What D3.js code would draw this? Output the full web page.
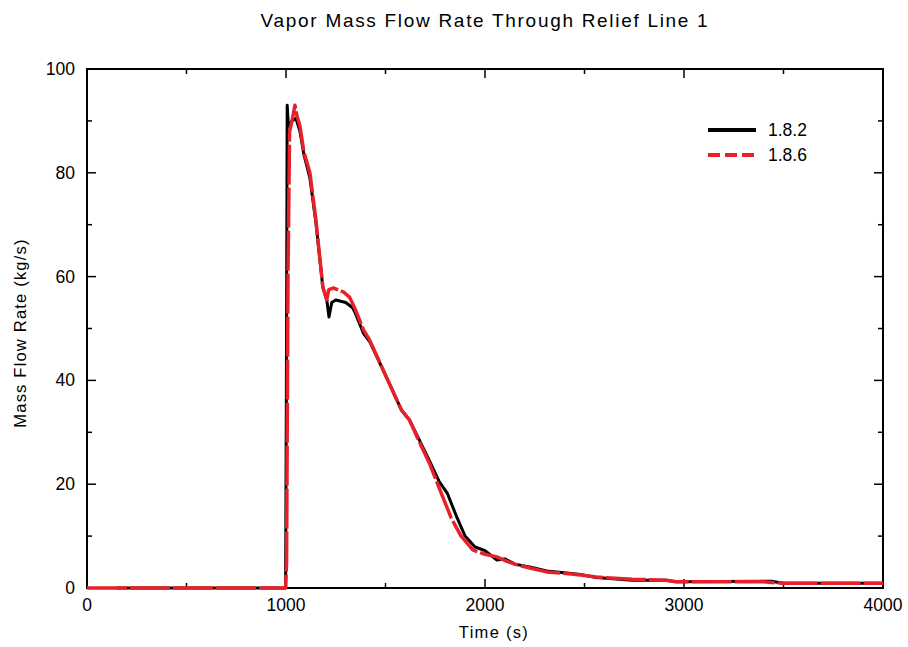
<!DOCTYPE html>
<html>
<head>
<meta charset="utf-8">
<script src="https://cdn.jsdelivr.net/npm/d3@7"></script>
<style>
  body { margin: 0; background: #fff; }
  text { font-family: "Liberation Sans", Arial, sans-serif; fill: #000; }
</style>
</head>
<body>
<svg id="chart" width="908" height="647"></svg>
<script>
// data
var xTicks = [0, 1000, 2000, 3000, 4000];
var yTicks = [0, 20, 40, 60, 80, 100];
var seriesNames = ['1.8.2', '1.8.6'];

var t182 = [150, 998, 1002, 1006, 1012, 1030, 1050, 1070, 1090, 1120, 1150, 1185, 1205, 1216, 1230, 1250, 1300, 1335, 1350, 1390, 1420, 1500, 1580, 1620, 1660, 1720, 1770, 1810, 1860, 1900, 1950, 2000, 2060, 2100, 2150, 2230, 2310, 2410, 2480, 2560, 2740, 2910, 2960, 3440, 3500, 4000];
var v182 = [0, 0, 40, 93, 89, 90, 90.5, 88, 83.5, 79, 70.5, 58, 55.5, 52.2, 55, 55.5, 55, 54, 52.8, 49, 47.5, 41, 34.3, 32.4, 29.3, 24.6, 20.5, 18.3, 13.5, 10, 7.9, 7.2, 5.4, 5.6, 4.6, 4.0, 3.3, 2.9, 2.6, 2.0, 1.5, 1.5, 1.2, 1.3, 0.9, 0.9];

var t186 = [0, 998, 1003, 1010, 1018, 1030, 1045, 1055, 1070, 1090, 1120, 1150, 1185, 1205, 1215, 1240, 1290, 1320, 1350, 1390, 1420, 1500, 1580, 1620, 1660, 1720, 1780, 1830, 1880, 1940, 2000, 2060, 2100, 2150, 2230, 2310, 2410, 2480, 2560, 2740, 2910, 2960, 3400, 3500, 4000];
var v186 = [0, 0, 5, 60, 88, 90, 93, 91, 89, 84, 80, 71, 58, 55.5, 57.5, 57.8, 57, 56, 53.5, 49.7, 47.8, 41, 34.3, 32.4, 29, 24.1, 18.3, 13.5, 10, 7.3, 6.5, 6.0, 5.3, 4.6, 3.8, 3.1, 2.8, 2.5, 2.1, 1.7, 1.5, 1.2, 1.2, 0.9, 0.9];

var margin = { left: 87, right: 25, top: 69, bottom: 59 };
var width = 908, height = 647;

var svg = d3.select('#chart');

var x = d3.scaleLinear().domain([0, 4000]).range([margin.left, width - margin.right]);
var y = d3.scaleLinear().domain([0, 100]).range([height - margin.bottom, margin.top]);

// frame
svg.append('rect')
  .attr('x', x(0)).attr('y', y(100))
  .attr('width', x(4000) - x(0)).attr('height', y(0) - y(100))
  .attr('fill', 'none').attr('stroke', '#000').attr('stroke-width', 2);

// inward ticks on all four sides
var xMinor = d3.range(0, 4001, 500), yMinor = d3.range(0, 101, 10);
function tickLen(v, step){ return v % step === 0 ? 9 : 5; }
var tg = svg.append('g').attr('stroke', '#000').attr('stroke-width', 1.5);
xMinor.forEach(function(v){
  var L = tickLen(v, 1000);
  tg.append('line').attr('x1', x(v)).attr('x2', x(v)).attr('y1', y(0)).attr('y2', y(0) - L);
  tg.append('line').attr('x1', x(v)).attr('x2', x(v)).attr('y1', y(100)).attr('y2', y(100) + L);
});
yMinor.forEach(function(v){
  var L = tickLen(v, 20);
  tg.append('line').attr('y1', y(v)).attr('y2', y(v)).attr('x1', x(0)).attr('x2', x(0) + L);
  tg.append('line').attr('y1', y(v)).attr('y2', y(v)).attr('x1', x(4000)).attr('x2', x(4000) - L);
});

// tick labels
svg.append('g').selectAll('text').data(xTicks).join('text')
  .attr('x', function(d){ return x(d); }).attr('y', y(0) + 23)
  .attr('text-anchor', 'middle').attr('font-size', 17.5).text(function(d){ return d; });
svg.append('g').selectAll('text').data(yTicks).join('text')
  .attr('x', x(0) - 12).attr('y', function(d){ return y(d) + 6; })
  .attr('text-anchor', 'end').attr('font-size', 17.5).text(function(d){ return d; });

// titles
svg.append('text').attr('x', 485).attr('y', 27).attr('text-anchor', 'middle')
  .attr('font-size', 19).attr('letter-spacing', 1.7)
  .text('Vapor Mass Flow Rate Through Relief Line 1');
svg.append('text').attr('x', 494).attr('y', 638).attr('text-anchor', 'middle')
  .attr('font-size', 16.5).attr('letter-spacing', 1.3)
  .text('Time (s)');
svg.append('text').attr('transform', 'translate(26,333) rotate(-90)').attr('text-anchor', 'middle')
  .attr('font-size', 16.5).attr('letter-spacing', 1.2)
  .text('Mass Flow Rate (kg/s)');

// series
var line = d3.line().x(function(d){ return x(d[0]); }).y(function(d){ return y(d[1]); });
var d182 = t182.map(function(t, i){ return [t, v182[i]]; });
var d186 = t186.map(function(t, i){ return [t, v186[i]]; });

svg.append('path').datum(d182).attr('d', line)
  .attr('fill', 'none').attr('stroke', '#000').attr('stroke-width', 3).attr('stroke-linejoin', 'round');
svg.append('path').datum(d186).attr('d', line)
  .attr('fill', 'none').attr('stroke', '#e8202a').attr('stroke-width', 3.5).attr('stroke-linejoin', 'round')
  .attr('stroke-dasharray', '40,3');

// legend
var lg = svg.append('g');
[['#000', null], ['#e8202a', '12,5']].forEach(function(s, i){
  var yy = 130 + i * 25;
  lg.append('line').attr('x1', 708).attr('x2', 756).attr('y1', yy).attr('y2', yy)
    .attr('stroke', s[0]).attr('stroke-width', 4).attr('stroke-dasharray', s[1]);
  lg.append('text').attr('x', 768).attr('y', yy + 6).attr('font-size', 17.5).text(seriesNames[i]);
});
</script>
</body>
</html>
